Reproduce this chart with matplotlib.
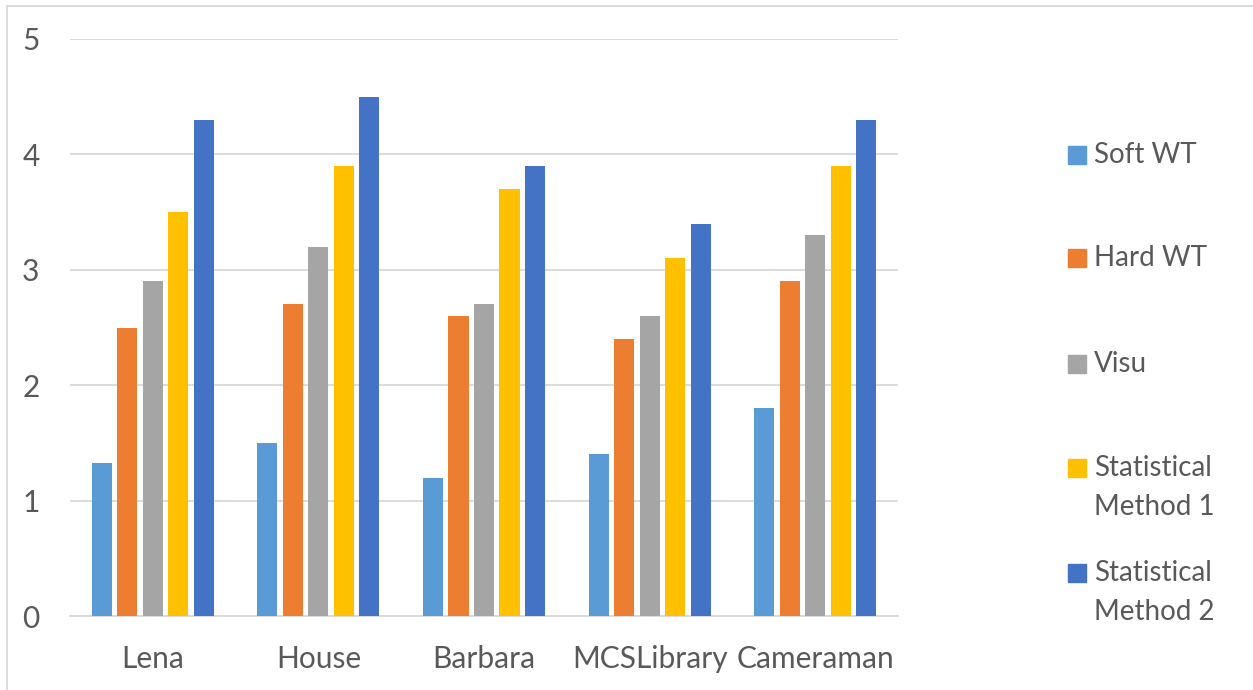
import numpy as np
import matplotlib
matplotlib.use("Agg")
import matplotlib.pyplot as plt
from matplotlib.patches import Rectangle

categories = ["Lena", "House", "Barbara", "MCSLibrary", "Cameraman"]
series_names = ["Soft WT", "Hard WT", "Visu", "Statistical\nMethod 1", "Statistical\nMethod 2"]
soft_wt = [1.33, 1.5, 1.2, 1.4, 1.8]
hard_wt = [2.5, 2.7, 2.6, 2.4, 2.9]
visu = [2.9, 3.2, 2.7, 2.6, 3.3]
stat_method_1 = [3.5, 3.9, 3.7, 3.1, 3.9]
stat_method_2 = [4.3, 4.5, 3.9, 3.4, 4.3]
y_ticks = [0, 1, 2, 3, 4, 5]

colors = ["#5B9BD5", "#ED7D31", "#A5A5A5", "#FFC000", "#4472C4"]
text_color = "#595959"
grid_color = "#D9D9D9"
font = "Lato"

W, H = 1253, 690
fig = plt.figure(figsize=(W / 100, H / 100), dpi=100)
fig.patch.set_facecolor("white")

# chart frame
fig.patches.append(Rectangle((7 / W, -0.05), 1.2, (H - 6) / H + 0.05,
                             transform=fig.transFigure, fill=False,
                             edgecolor=grid_color, linewidth=1.3))

left, right, top, bottom = 70, 898, 39, 616
ax = fig.add_axes([left / W, (H - bottom) / H, (right - left) / W, (bottom - top) / H])

series = [soft_wt, hard_wt, visu, stat_method_1, stat_method_2]
x = np.arange(len(categories))
pitch = 0.154
width = 0.121
for i, (vals, c) in enumerate(zip(series, colors)):
    ax.bar(x + (i - 2) * pitch, vals, width=width, color=c, zorder=3)

ax.set_xlim(-0.5, len(categories) - 0.5)
ax.set_ylim(0, 5)
ax.set_yticks(y_ticks)
ax.set_xticks(x)
ax.set_xticklabels(categories)
ax.grid(axis="y", color=grid_color, linewidth=1.3, zorder=0)
for s in ["top", "right", "left"]:
    ax.spines[s].set_visible(False)
ax.spines["bottom"].set_color(grid_color)
ax.spines["bottom"].set_linewidth(1.3)
ax.tick_params(axis="both", length=0, colors=text_color, labelsize=21.5)
ax.tick_params(axis="y", pad=22)
ax.tick_params(axis="x", pad=21)
for lab in ax.get_xticklabels() + ax.get_yticklabels():
    lab.set_fontfamily(font)

# legend on the right
marker_centers = [155, 258, 364, 468, 573]
for name, c, yc in zip(series_names, colors, marker_centers):
    fig.patches.append(Rectangle((1068 / W, (H - yc - 9) / H), 18 / W, 18 / H,
                                 transform=fig.transFigure, color=c))
    for k, line in enumerate(name.split("\n")):
        fig.text(1094 / W, (H - yc - k * 39) / H, line, fontsize=20,
                 color=text_color, family=font, va="center", ha="left")

fig.savefig("out.png", dpi=100, facecolor="white")
